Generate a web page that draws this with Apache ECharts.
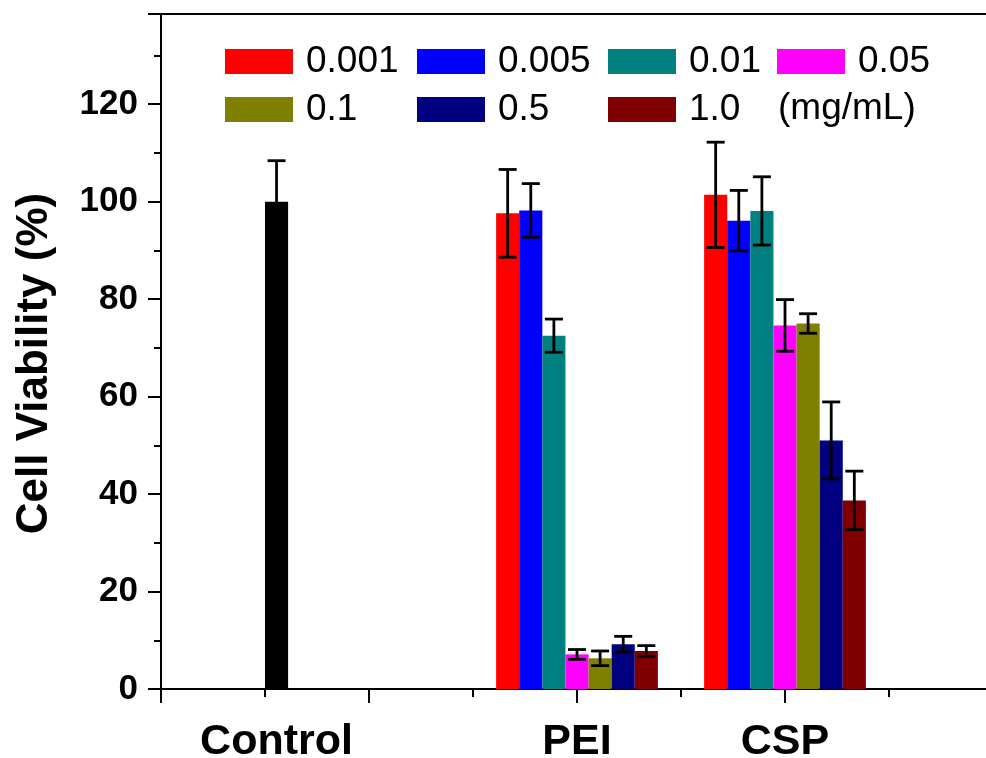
<!DOCTYPE html>
<html>
<head>
<meta charset="utf-8">
<script src="https://cdn.jsdelivr.net/npm/echarts@6/dist/echarts.min.js"></script>
<style>
  html, body { margin: 0; padding: 0; background: #fff; overflow: hidden; }
  #chart { width: 986px; height: 758px; }
</style>
</head>
<body>
<div id="chart"></div>
<script>
// ---- data ----
const categories = ['Control', 'PEI', 'CSP'];
const categoryX = [1.111, 4, 6];           // group centres on the x scale
const concentrations = ['0.001', '0.005', '0.01', '0.05', '0.1', '0.5', '1.0'];
const controlMean = [100];
const controlErr = [8.4];
const peiMean = [97.6, 98.2, 72.5, 7.1, 6.3, 9.2, 7.8];
const peiErr  = [9.0, 5.5, 3.4, 1.0, 1.5, 1.6, 1.1];
const cspMean = [101.4, 96.1, 98.1, 74.6, 75.0, 51.0, 38.7];
const cspErr  = [10.8, 6.2, 7.0, 5.3, 2.0, 7.9, 6.0];
const yTicks = [0, 20, 40, 60, 80, 100, 120];
const unitLabel = '(mg/mL)';

// ---- styling ----
const colors = ['#FF0000', '#0000FF', '#008080', '#FF00FF', '#808000', '#000080', '#800000'];
const BW = 0.2222; // bar width in x-axis units
const FONT = '"Liberation Sans", Arial, Helvetica, sans-serif';

function barRender(params, api) {
  const x = api.value(0), y = api.value(1);
  const p0 = api.coord([x - BW / 2, y]);
  const p1 = api.coord([x + BW / 2, 0]);
  return {
    type: 'rect',
    shape: { x: p0[0], y: p0[1], width: p1[0] - p0[0], height: p1[1] - p0[1] },
    style: { fill: api.visual('color') }
  };
}
function errRender(params, api) {
  const x = api.value(0), y = api.value(1), e = api.value(2);
  const top = api.coord([x, y + e]);
  const bot = api.coord([x, y - e]);
  const hw = 9;
  const st = { stroke: '#000', lineWidth: 2.8 };
  return {
    type: 'group',
    children: [
      { type: 'line', shape: { x1: top[0], y1: top[1], x2: bot[0], y2: bot[1] }, style: st },
      { type: 'line', shape: { x1: top[0] - hw, y1: top[1], x2: top[0] + hw, y2: top[1] }, style: st },
      { type: 'line', shape: { x1: bot[0] - hw, y1: bot[1], x2: bot[0] + hw, y2: bot[1] }, style: st }
    ]
  };
}

const series = [];
series.push({
  name: 'Control', type: 'custom', renderItem: barRender,
  itemStyle: { color: '#000' },
  encode: { x: 0, y: 1 },
  data: controlMean.map((m, i) => [categoryX[0], m, controlErr[i]])
});
const errData = [[categoryX[0], controlMean[0], controlErr[0]]];
concentrations.forEach((c, i) => {
  const off = (i - 3) * BW;
  series.push({
    name: c, type: 'custom', renderItem: barRender,
    itemStyle: { color: colors[i] },
    encode: { x: 0, y: 1 },
    data: [
      [categoryX[1] + off, peiMean[i], peiErr[i]],
      [categoryX[2] + off, cspMean[i], cspErr[i]]
    ]
  });
  errData.push([categoryX[1] + off, peiMean[i], peiErr[i]]);
  errData.push([categoryX[2] + off, cspMean[i], cspErr[i]]);
});
series.push({
  name: 'err', type: 'custom', renderItem: errRender, z: 10,
  encode: { x: 0, y: 1 }, data: errData
});

function legendCol(items, left) {
  return {
    data: items, left: left, top: 43, orient: 'vertical',
    icon: 'rect', itemWidth: 68, itemHeight: 25, itemGap: 11,
    selectedMode: false, padding: 0,
    textStyle: { fontSize: 37, fontFamily: FONT, color: '#000', lineHeight: 25, padding: [0, 0, 0, 8] }
  };
}

const option = {
  animation: false,
  backgroundColor: '#fff',
  grid: { left: 161, width: 832, top: 14, height: 675, containLabel: false, outerBoundsMode: 'none' },
  legend: [
    legendCol([concentrations[0], concentrations[4]], 225),
    legendCol([concentrations[1], concentrations[5]], 417),
    legendCol([concentrations[2], concentrations[6]], 608),
    legendCol([concentrations[3]], 777)
  ],
  graphic: [{
    type: 'text', left: 778, top: 90,
    style: { text: unitLabel, fontSize: 37, fontFamily: FONT, fill: '#000' }
  }],
  xAxis: [{
    type: 'value', min: 0, max: 8, interval: 2, position: 'bottom',
    axisLine: { show: true, onZero: false, lineStyle: { color: '#000', width: 2 } },
    axisTick: { show: true, length: 14, inside: false, lineStyle: { color: '#000', width: 2 } },
    minorTick: { show: true, splitNumber: 2, length: 8, lineStyle: { color: '#000', width: 2 } },
    splitLine: { show: false },
    axisLabel: {
      customValues: categoryX,
      formatter: function (v) {
        const i = categoryX.findIndex(c => Math.abs(c - v) < 1e-6);
        return i >= 0 ? categories[i] : '';
      },
      margin: 32, fontSize: 43, fontWeight: 'bold', fontFamily: FONT, color: '#000'
    }
  }, {
    type: 'value', min: 0, max: 8, position: 'top',
    axisLine: { show: true, onZero: false, lineStyle: { color: '#000', width: 2 } },
    axisTick: { show: false }, axisLabel: { show: false }, splitLine: { show: false }
  }],
  yAxis: {
    type: 'value', min: 0, max: 138.5, interval: 20,
    name: 'Cell Viability (%)', nameLocation: 'middle', nameGap: 104,
    nameTextStyle: { fontSize: 44, fontWeight: 'bold', fontFamily: FONT, color: '#000', padding: [0, 24, 0, 0] },
    axisLine: { show: true, onZero: false, lineStyle: { color: '#000', width: 2 } },
    axisTick: { show: true, length: 13, lineStyle: { color: '#000', width: 2 } },
    minorTick: { show: true, splitNumber: 2, length: 7, lineStyle: { color: '#000', width: 2 } },
    splitLine: { show: false },
    axisLabel: {
      showMaxLabel: false,
      formatter: v => (yTicks.indexOf(v) >= 0 ? String(v) : ''),
      margin: 23, fontSize: 35, fontWeight: 'bold', fontFamily: FONT, color: '#000'
    }
  },
  series: series
};

const chart = echarts.init(document.getElementById('chart'), null, { renderer: 'canvas' });
chart.setOption(option);
</script>
</body>
</html>
